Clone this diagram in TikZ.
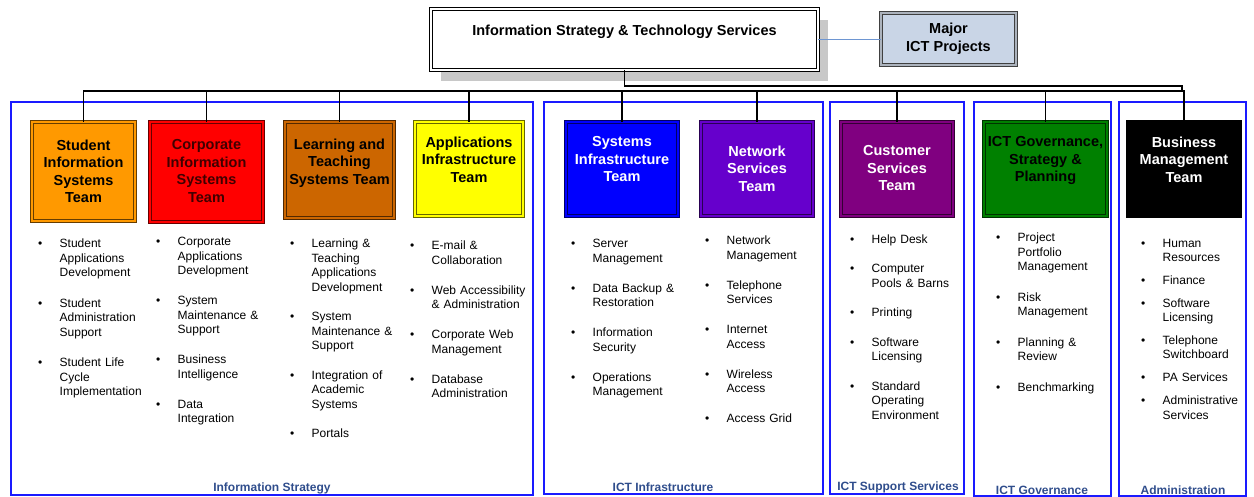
\documentclass[tikz,border=0pt]{standalone}
\usepackage{fontspec}
\setmainfont{Liberation Sans}
\usepackage{tikz}
\usetikzlibrary{shapes, positioning, shadows}

\definecolor{sisorange}{HTML}{FF9900}
\definecolor{cisred}{HTML}{FF0000}
\definecolor{cistext}{HTML}{400000}
\definecolor{ltsbrown}{HTML}{CC6600}
\definecolor{aityellow}{HTML}{FFFF00}
\definecolor{sitblue}{HTML}{0000FF}
\definecolor{nstviolet}{HTML}{6600CC}
\definecolor{cstpurple}{HTML}{800080}
\definecolor{govgreen}{HTML}{008000}
\definecolor{majorfill}{HTML}{C9D5E6}
\definecolor{panelblue}{HTML}{1A1AFF}
\definecolor{labelblue}{HTML}{2F4D8C}
\definecolor{shadowgray}{HTML}{C8C8C8}
\definecolor{linkblue}{HTML}{6E96D2}

\tikzstyle{panel} = [rectangle, draw=panelblue, line width=1.2pt, inner sep=0, outer sep=0]
\tikzstyle{paneltxt} = [inner sep=0, text=labelblue, font=\bfseries\fontsize{12}{14}\selectfont]
\tikzstyle{topbox} = [rectangle, preaction={fill=white, draw=black, line width=3.4pt}, draw=white, line width=1.4pt, inner sep=0, outer sep=0]
\tikzstyle{majbox} = [rectangle, preaction={fill=majorfill, draw=black!75, line width=3.4pt}, draw=majorfill!60!gray, line width=1.4pt, inner sep=0, outer sep=0, align=center, font=\bfseries\fontsize{14.5}{18}\selectfont]
\tikzstyle{team} = [rectangle, preaction={fill=#1, draw=#1!40!black, line width=3.4pt}, draw=#1, line width=1.4pt, inner sep=0, outer sep=0]
\tikzstyle{teamtxt} = [inner sep=0, align=center, font=\bfseries\fontsize{14.5}{17.5}\selectfont]
\tikzstyle{items} = [anchor=north west, inner sep=0, text width=135pt, font=\fontsize{12}{14.5}\selectfont]
\tikzstyle{line} = [draw, line width=1.1pt]
\tikzstyle{link} = [draw=linkblue, line width=0.8pt]

\newcommand{\bul}[2][15.5pt]{\noindent\makebox[21.5pt][l]{\textbullet}\parbox[t]{112pt}{#2\strut}\par\prevdepth=\dp\strutbox\vspace{#1}}

\begin{document}
\begin{tikzpicture}[x=1pt, y=-1pt]
\useasboundingbox (0,0) rectangle (1254,497);

% groups
\node [panel, minimum width=522, minimum height=393] (pis) at (272,298.5) {};
\node [panel, minimum width=279, minimum height=392] (pinf) at (683.5,298) {};
\node [panel, minimum width=134, minimum height=392] (psup) at (897,298) {};
\node [panel, minimum width=137, minimum height=394] (pgov) at (1042.5,299) {};
\node [panel, minimum width=127, minimum height=394] (padm) at (1182.5,299) {};

\node [paneltxt] (tis) at (272,488.5) {Information Strategy};
\node [paneltxt] (tinf) at (663,487.5) {ICT Infrastructure};
\node [paneltxt] (tsup) at (898,487.5) {ICT Support Services};
\node [paneltxt] (tgov) at (1042,490.5) {ICT Governance};
\node [paneltxt] (tadm) at (1183,490.5) {Administration};

% top
\node [drop shadow={shadow xshift=10pt, shadow yshift=-11pt, fill=shadowgray, opacity=1},
       topbox, minimum width=387, minimum height=61] (ists) at (624.5,39.5) {};
\node [teamtxt, below=15.5pt of ists.north] (iststxt) {Information Strategy \& Technology Services};
\node [majbox, minimum width=135, minimum height=52] (major) at (948.5,39) {Major\\ICT Projects};

% teams
\node [team=sisorange, minimum width=103, minimum height=99] (sis) at (83.5,171.5) {};
\node [team=cisred, minimum width=113, minimum height=100] (cis) at (206.5,172) {};
\node [team=ltsbrown, minimum width=109, minimum height=96] (lts) at (339.5,170) {};
\node [team=aityellow, minimum width=108, minimum height=94] (ait) at (469,169) {};
\node [team=sitblue, minimum width=112, minimum height=94] (sit) at (622,169) {};
\node [team=nstviolet, minimum width=112, minimum height=94] (nst) at (757,169) {};
\node [team=cstpurple, minimum width=112, minimum height=94] (cst) at (897,169) {};
\node [team=govgreen, minimum width=123, minimum height=94] (gov) at (1045.5,169) {};
\node [team=black, minimum width=112, minimum height=94] (bmt) at (1184,169) {};

\node [teamtxt, below=17.5pt of sis.north] (sistxt) {Student\\Information\\Systems\\Team};
\node [teamtxt, text=cistext, below=17.5pt of cis.north] (cistxt) {Corporate\\Information\\Systems\\Team};
\node [teamtxt, below=16.5pt of lts.north] (ltstxt) {Learning and\\Teaching\\Systems Team};
\node [teamtxt, below=14.5pt of ait.north] (aittxt) {Applications\\Infrastructure\\Team};
\node [teamtxt, text=white, below=14.5pt of sit.north] (sittxt) {Systems\\Infrastructure\\Team};
\node [teamtxt, text=white, below=23.5pt of nst.north] (nsttxt) {Network\\Services\\Team};
\node [teamtxt, text=white, below=23.5pt of cst.north] (csttxt) {Customer\\Services\\Team};
\node [teamtxt, below=14.5pt of gov.north] (govtxt) {ICT Governance,\\Strategy \&\\Planning};
\node [teamtxt, text=white, below=14.5pt of bmt.north] (bmttxt) {Business\\Management\\Team};

% duties
\node [items] (lsis) at (38,239) {
  \bul[16pt]{Student\\Applications\\Development}
  \bul[16pt]{Student\\Administration\\Support}
  \bul{Student Life\\Cycle\\Implementation}};
\node [items] (lcis) at (156,237) {
  \bul{Corporate\\Applications\\Development}
  \bul{System\\Maintenance \&\\Support}
  \bul{Business\\Intelligence}
  \bul{Data\\Integration}};
\node [items] (llts) at (290,239) {
  \bul[15pt]{Learning \&\\Teaching\\Applications\\Development}
  \bul[15pt]{System\\Maintenance \&\\Support}
  \bul[15pt]{Integration of\\Academic\\Systems}
  \bul{Portals}};
\node [items] (lait) at (410,241) {
  \bul{E-mail \&\\Collaboration}
  \bul{Web Accessibility\\\& Administration}
  \bul{Corporate Web\\Management}
  \bul{Database\\Administration}};
\node [items] (lsit) at (571,239) {
  \bul{Server\\Management}
  \bul{Data Backup \&\\Restoration}
  \bul{Information\\Security}
  \bul{Operations\\Management}};
\node [items] (lnst) at (705,236) {
  \bul{Network\\Management}
  \bul{Telephone\\Services}
  \bul{Internet\\Access}
  \bul{Wireless\\Access}
  \bul{Access Grid}};
\node [items] (lcst) at (850,233) {
  \bul[15pt]{Help Desk}
  \bul[15pt]{Computer\\Pools \& Barns}
  \bul[15pt]{Printing}
  \bul[15pt]{Software\\Licensing}
  \bul{Standard\\Operating\\Environment}};
\node [items] (lgov) at (996,233) {
  \bul[16pt]{Project\\Portfolio\\Management}
  \bul[16pt]{Risk\\Management}
  \bul[16pt]{Planning \&\\Review}
  \bul{Benchmarking}};
\node [items] (lbmt) at (1141,239) {
  \bul[8pt]{Human\\Resources}
  \bul[8.5pt]{Finance}
  \bul[8pt]{Software\\Licensing}
  \bul[8.5pt]{Telephone\\Switchboard}
  \bul[8.5pt]{PA Services}
  \bul{Administrative\\Services}};

% links
\coordinate (busL) at (83.5,91);
\coordinate (elbow) at (1182,86);
\path [link] (major.west -| ists.east) -- (major.west);
\path [line] (ists.south) |- (elbow) -- (elbow |- busL);
\path [line] (sis.north) -- (sis.north |- busL) -- (bmt.north |- busL) -- (bmt.north);
\foreach \t in {cis, lts, ait, sit, nst, cst, gov}
  \path [line] (\t.north |- busL) -- (\t.north);
\end{tikzpicture}
\end{document}
